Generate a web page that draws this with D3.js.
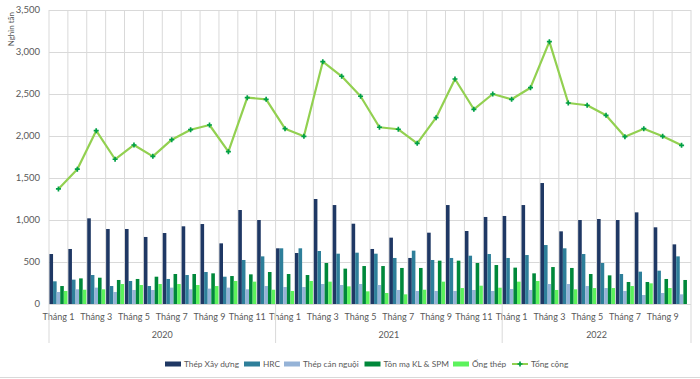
<!DOCTYPE html>
<html><head><meta charset="utf-8">
<script src="https://cdn.jsdelivr.net/npm/d3@7/dist/d3.min.js"></script>
<style>body{margin:0;background:#fff}svg{display:block}text{font-family:Lato,"Open Sans",sans-serif;fill:#595959}</style>
</head><body><svg id="c" width="700" height="379"></svg>
<script>
const years = ["2020","2021","2022"];
const monthsPerYear = [12,12,10];
const monthLabels = ["Tháng 1","","Tháng 3","","Tháng 5","","Tháng 7","","Tháng 9","","Tháng 11","",
"Tháng 1","","Tháng 3","","Tháng 5","","Tháng 7","","Tháng 9","","Tháng 11","",
"Tháng 1","","Tháng 3","","Tháng 5","","Tháng 7","","Tháng 9",""];
const seriesNames = ["Thép Xây dựng","HRC","Thép cán nguội","Tôn mạ KL & SPM","Ống thép"];
const thepXayDung = [595,655,1020,893,893,798,845,925,952,722,1119,1000,663,607,1250,1178,956,655,790,548,849,1178,869,1036,1048,1178,1440,865,1000,1012,1000,1091,913,710];
const hrc = [270,290,345,214,274,214,298,345,381,325,524,567,663,663,631,599,611,599,548,635,524,548,575,595,548,583,702,663,595,488,357,385,397,567];
const thepCanNguoi = [143,175,195,143,167,167,195,175,183,195,175,214,202,202,238,226,238,226,167,155,155,155,167,155,179,167,238,238,214,190,155,107,131,115];
const tonMa = [214,305,313,286,298,325,357,357,365,333,353,381,357,345,488,421,452,452,429,429,516,516,488,464,433,365,440,429,357,341,262,262,298,286];
const ongThep = [155,170,175,238,226,238,238,226,214,274,266,170,155,274,266,210,151,131,115,170,266,190,218,194,266,274,167,175,190,190,214,246,190,0];
const tongCong = [1370,1605,2063,1723,1893,1758,1956,2075,2131,1813,2456,2437,2087,1996,2885,2711,2473,2104,2080,1913,2218,2679,2318,2500,2437,2575,3123,2393,2366,2246,1992,2087,1996,1889];
const yTicks = [0,500,1000,1500,2000,2500,3000,3500];
const colors = ["#1f3864","#2e7f9a","#95b3d7","#00883a","#5cf25c"];
const lineColor = "#92d050", markerColor = "#00a046";

const svg = d3.select("#c");
const L = 49, R = 691, T = 10, B = 304;
const n = tongCong.length;
const x = d3.scaleBand().domain(d3.range(n)).range([L,R]).padding(0);
const xs = d3.scaleBand().domain(d3.range(5)).range([0,x.bandwidth()]).paddingInner(0).paddingOuter(0.13);
const y = d3.scaleLinear().domain([0,3500]).range([B,T]);
const bars = [thepXayDung,hrc,thepCanNguoi,tonMa,ongThep];

// horizontal grid
svg.append("g").selectAll("line").data(yTicks).join("line")
  .attr("x1",L).attr("x2",R).attr("y1",d=>Math.round(y(d))+0.5).attr("y2",d=>Math.round(y(d))+0.5)
  .attr("stroke","#d9d9d9").attr("stroke-width",1);
// vertical grid
svg.append("g").selectAll("line").data(d3.range(n+1)).join("line")
  .attr("x1",i=>i<n?x(i):R).attr("x2",i=>i<n?x(i):R).attr("y1",T).attr("y2",B)
  .attr("stroke","#d9d9d9").attr("stroke-width",1);

// y axis labels
svg.append("g").selectAll("text").data(yTicks).join("text")
  .attr("x",40).attr("y",d=>y(d)).attr("dy","0.35em").attr("text-anchor","end")
  .attr("font-size","9.5px").text(d=>d3.format(",")(d));
svg.append("text").attr("transform","translate(11,12) rotate(-90)").attr("text-anchor","end")
  .attr("dy","0.35em").attr("font-size","8px").text("Nghìn tấn");

// bars
bars.forEach((arr,k)=>{
  svg.append("g").selectAll("rect").data(arr).join("rect")
    .attr("x",(d,i)=>x(i)+xs(k)).attr("width",xs.bandwidth())
    .attr("y",d=>y(d)).attr("height",d=>B-y(d)).attr("fill",colors[k]);
});

// x axis line
svg.append("line").attr("x1",L).attr("x2",R).attr("y1",B+0.5).attr("y2",B+0.5).attr("stroke","#d9d9d9");
// month labels
svg.append("g").selectAll("text").data(monthLabels).join("text")
  .attr("x",(d,i)=>x(i)+x.bandwidth()/2).attr("y",317).attr("dy","0.35em")
  .attr("text-anchor","middle").attr("font-size","9px").text(d=>d);
// year groups
let start=0; const bounds=[0];
monthsPerYear.forEach(m=>{start+=m;bounds.push(start);});
svg.append("g").selectAll("line").data(bounds).join("line")
  .attr("x1",i=>i<n?x(i):R).attr("x2",i=>i<n?x(i):R).attr("y1",B).attr("y2",343)
  .attr("stroke","#d9d9d9");
svg.append("g").selectAll("text").data(years).join("text")
  .attr("x",(d,j)=>{const a=bounds[j],b=bounds[j+1];return (x(a)+(b<n?x(b):R))/2;})
  .attr("y",335).attr("dy","0.35em").attr("text-anchor","middle").attr("font-size","9px").text(d=>d);

// line
const line = d3.line().x((d,i)=>x(i)+x.bandwidth()/2).y(d=>y(d));
svg.append("path").datum(tongCong).attr("d",line).attr("fill","none").attr("stroke",lineColor).attr("stroke-width",2.2).attr("stroke-linejoin","round");
svg.append("g").selectAll("path").data(tongCong).join("path")
  .attr("d",d3.symbol(d3.symbolCross,14))
  .attr("transform",(d,i)=>`translate(${x(i)+x.bandwidth()/2},${y(d)})`).attr("fill",markerColor);

// legend
const legX = [165,244,284,364.5,453,512];
const leg = svg.append("g");
seriesNames.forEach((s,k)=>{
  leg.append("rect").attr("x",legX[k]).attr("y",361.5).attr("width",16).attr("height",5).attr("fill",colors[k]);
  leg.append("text").attr("x",legX[k]+19).attr("y",364).attr("dy","0.35em").attr("font-size","8.3px").text(s);
});
leg.append("line").attr("x1",legX[5]).attr("x2",legX[5]+16).attr("y1",364).attr("y2",364).attr("stroke",lineColor).attr("stroke-width",2);
leg.append("path").attr("d",d3.symbol(d3.symbolCross,14)).attr("transform",`translate(${legX[5]+8},364)`).attr("fill",markerColor);
leg.append("text").attr("x",legX[5]+19).attr("y",364).attr("dy","0.35em").attr("font-size","8.3px").text("Tổng cộng");
// bottom border
svg.append("line").attr("x1",0).attr("x2",700).attr("y1",377.5).attr("y2",377.5).attr("stroke","#d9d9d9");
</script></body></html>
